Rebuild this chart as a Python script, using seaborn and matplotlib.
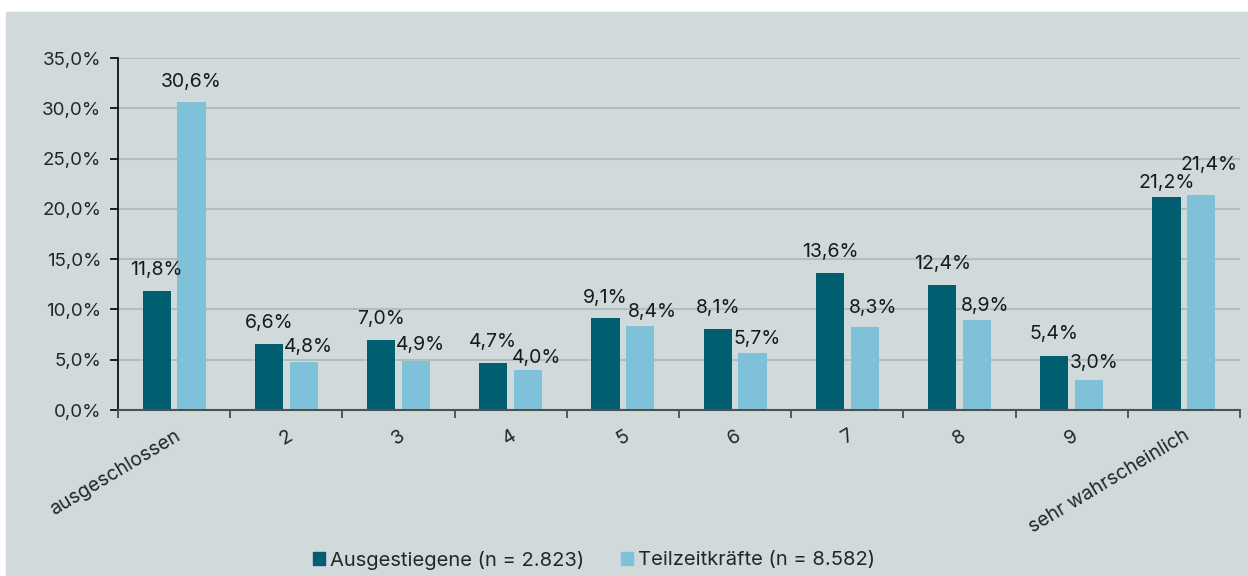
import seaborn as sns
import matplotlib.pyplot as plt
import matplotlib.patches as mpatches
import pandas as pd

categories = ['ausgeschlossen', '2', '3', '4', '5', '6', '7', '8', '9', 'sehr wahrscheinlich']
ausgestiegene = [11.8, 6.6, 7.0, 4.7, 9.1, 8.1, 13.6, 12.4, 5.4, 21.2]
teilzeit = [30.6, 4.8, 4.9, 4.0, 8.4, 5.7, 8.3, 8.9, 3.0, 21.4]
series = ['Ausgestiegene (n = 2.823)', 'Teilzeitkräfte (n = 8.582)']

dark = '#005e70'
light = '#80c1da'
bg = '#d0dadb'

# label placement (pixels): Excel pushed some labels aside to avoid overlaps
label_dx = [[0] * 10, [0, 5, 5, 8, 12, 5, 8, 8, 5, 8]]
label_gap = [[16, 16, 16, 16, 15, 16, 16, 16, 17, 9],
             [15, 10, 11, 7, 9, 9, 14, 9, 12, 25]]

df = pd.DataFrame({
    'cat': categories * 2,
    'val': ausgestiegene + teilzeit,
    'grp': [series[0]] * len(categories) + [series[1]] * len(categories),
})

sns.set_theme(style='white')
plt.rcParams['font.family'] = ['Inter', 'DejaVu Sans']

fig = plt.figure(figsize=(12.48, 5.76), dpi=100, facecolor='white')
fig.patches.append(mpatches.Rectangle((6 / 1248, 0), 1, 1 - 12 / 576,
                                      transform=fig.transFigure, color=bg, zorder=-10))
ax = fig.add_axes([118 / 1248, 1 - 410 / 576, (1240 - 118) / 1248, (410 - 58) / 576])
ax.set_facecolor(bg)

sns.barplot(df, x='cat', y='val', hue='grp', palette=[dark, light],
            width=0.62, gap=0.19, ax=ax, legend=False, saturation=1,
            linewidth=0, edgecolor='none')

ax.set_ylim(0, 35)
ax.set_xlim(-0.5, len(categories) - 0.5)
ax.set_yticks(range(0, 36, 5))
ax.set_yticklabels([f'{v:.1f}%'.replace('.', ',') for v in range(0, 36, 5)], fontsize=13.5)
ax.yaxis.grid(True, color='#b3bdbe', linewidth=1.5)
ax.set_axisbelow(True)
ax.tick_params(axis='y', left=True, length=6, width=1.2, color='black', pad=6)

ax.set_xticks(range(len(categories)))
ax.set_xticklabels(categories, rotation=31, ha='right', rotation_mode='anchor', fontsize=14)
ax.tick_params(axis='x', bottom=False, pad=6)
ax.set_xticks([i + 0.5 for i in range(-1, len(categories))], minor=True)
ax.tick_params(axis='x', which='minor', bottom=True, length=6, width=1.2, color='#404040')
ax.set_xlabel('')
ax.set_ylabel('')

for s in ['top', 'right']:
    ax.spines[s].set_visible(False)
ax.spines['left'].set_color('black')
ax.spines['left'].set_linewidth(1.2)
ax.spines['bottom'].set_color('#505050')
ax.spines['bottom'].set_linewidth(1.5)

for ci, cont in enumerate(ax.containers):
    for i, bar in enumerate(cont):
        h = bar.get_height()
        ax.annotate(f'{h:.1f}%'.replace('.', ','),
                    (bar.get_x() + bar.get_width() / 2, h),
                    xytext=(label_dx[ci][i], label_gap[ci][i]), textcoords='offset pixels',
                    ha='center', va='baseline', fontsize=14, color='#1a1a1a')

handles = [mpatches.Patch(color=dark, label=series[0]),
           mpatches.Patch(color=light, label=series[1])]
fig.legend(handles=handles, loc='center', bbox_to_anchor=(594 / 1248, 1 - 560 / 576),
           ncol=2, frameon=False, fontsize=14.5, handlelength=0.6, handleheight=0.6,
           handletextpad=0.25, columnspacing=1.8)

fig.savefig('out.png', dpi=100, facecolor='white')
